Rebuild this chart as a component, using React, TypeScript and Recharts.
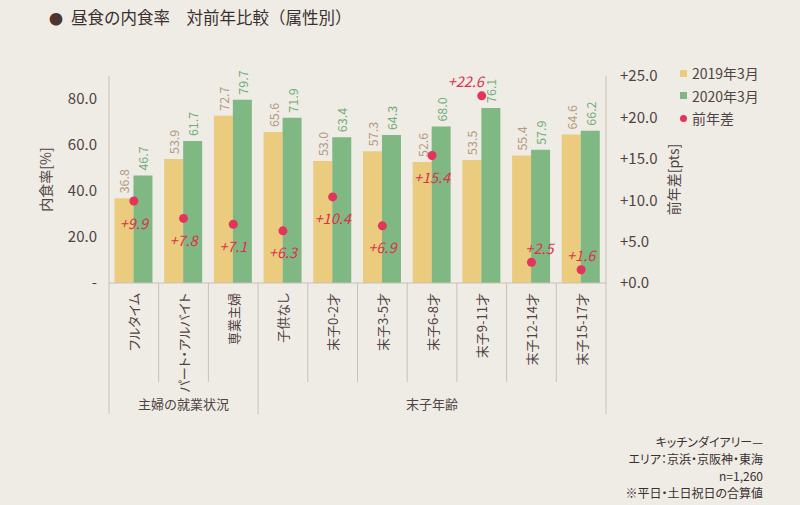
import React from 'react';
import { ComposedChart, Bar, Line, XAxis, YAxis, LabelList, Legend } from 'recharts';

const categories = ['フルタイム', 'パート・アルバイト', '専業主婦', '子供なし', '末子0-2才', '末子3-5才', '末子6-8才', '末子9-11才', '末子12-14才', '末子15-17才'];
const rate2019 = [36.8, 53.9, 72.7, 65.6, 53.0, 57.3, 52.6, 53.5, 55.4, 64.6];
const rate2020 = [46.7, 61.7, 79.7, 71.9, 63.4, 64.3, 68.0, 76.1, 57.9, 66.2];
const diff = [9.9, 7.8, 7.1, 6.3, 10.4, 6.9, 15.4, 22.6, 2.5, 1.6];
const groups = [
  { label: '主婦の就業状況', start: 0, end: 2 },
  { label: '末子年齢', start: 3, end: 9 },
];
const leftTicks = [0, 20, 40, 60, 80];
const rightTicks = [0, 5, 10, 15, 20, 25];
const seriesNames = { y2019: '2019年3月', y2020: '2020年3月', diff: '前年差' };
const notes = ['キッチンダイアリー—', 'エリア：京浜・京阪神・東海', 'n=1,260', '※平日・土日祝日の合算値'];
const title = '昼食の内食率　対前年比較（属性別）';

const data = categories.map((c, i) => ({ category: c, y2019: rate2019[i], y2020: rate2020[i], diff: diff[i] }));

const FONT = "'Noto Sans CJK JP', 'Noto Sans', sans-serif";
const W = 800;
const H = 505;
const MARGIN = { top: 76, right: 119, bottom: 82, left: 39 };
const LEFT_W = 70;
const RIGHT_W = 75;
const XAXIS_H = 140;
const PLOT_W = W - MARGIN.left - MARGIN.right - LEFT_W - RIGHT_W;
const BAND = PLOT_W / categories.length;
const PALT = { fontFeatureSettings: '"palt"' } as React.CSSProperties;

const C = {
  bg: '#efebe5',
  yellow: '#EBCB7E',
  green: '#80B883',
  yellowText: '#b39c7e',
  greenText: '#70ae78',
  red: '#e3345b',
  redText: '#d8334f',
  axis: '#c9c1b9',
  text: '#4f4444',
};

const XTick = (props: any) => {
  const { x, y, payload, index } = props;
  const i = typeof index === 'number' ? index : categories.indexOf(payload.value);
  const left = x - BAND / 2;
  const group = groups.find((g) => g.start === i);
  const isLast = i === categories.length - 1;
  return (
    <g>
      <line x1={left} x2={left} y1={y} y2={y + (group ? 131 : 99)} stroke={C.axis} strokeWidth={1} />
      {isLast && <line x1={x + BAND / 2} x2={x + BAND / 2} y1={y} y2={y + 131} stroke={C.axis} strokeWidth={1} />}
      <text
        x={x}
        y={y + 10}
        transform={`rotate(-90 ${x} ${y + 10})`}
        textAnchor="end"
        dominantBaseline="central"
        fontSize={13}
        fill={C.text}
        fontFamily={FONT}
        style={PALT}
      >
        {payload.value}
      </text>
      {group && (
        <text
          x={left + ((group.end - group.start + 1) * BAND) / 2}
          y={y + 120}
          textAnchor="middle"
          dominantBaseline="central"
          fontSize={13}
          fill={C.text}
          fontFamily={FONT}
        >
          {group.label}
        </text>
      )}
    </g>
  );
};

const barLabel = (color: string) => (props: any) => {
  const { x, y, width, value } = props;
  const cx = Number(x) + Number(width) / 2;
  const ty = Number(y) - 5;
  return (
    <text
      x={cx}
      y={ty}
      transform={`rotate(-90 ${cx} ${ty})`}
      textAnchor="start"
      dominantBaseline="central"
      fontSize={12.5}
      fill={color}
      fontFamily={FONT}
    >
      {Number(value).toFixed(1)}
    </text>
  );
};

const diffLabel = (props: any) => {
  const { x, y, value } = props;
  const v = Number(value);
  const above = v >= 20 || v < 3;
  const dx = v >= 20 ? -16 : v < 3 && v >= 2 ? 8 : 0;
  return (
    <text
      x={Number(x) + dx}
      y={Number(y) + (above ? -15 : 21)}
      textAnchor="middle"
      dominantBaseline="central"
      fontSize={14.5}
      fontStyle="italic"
      fill={C.redText}
      fontFamily={FONT}
    >
      {'+' + v.toFixed(1)}
    </text>
  );
};

const LegendContent = (props: any) => {
  const { payload } = props;
  return (
    <div style={{ fontFamily: FONT, fontSize: 14, color: C.text }}>
      {(payload || []).map((e: any, i: number) => (
        <div key={i} style={{ display: 'flex', alignItems: 'center', height: 22.5 }}>
          {e.type === 'circle' ? (
            <span style={{ width: 7, height: 7, borderRadius: '50%', background: C.red, display: 'inline-block', marginRight: 5 }} />
          ) : (
            <span style={{ width: 7, height: 7, background: e.color, display: 'inline-block', marginRight: 5 }} />
          )}
          <span>{e.value}</span>
        </div>
      ))}
    </div>
  );
};

const leftLabel = (props: any) => {
  const { viewBox } = props;
  const cx = viewBox.x + 6;
  const cy = viewBox.y + viewBox.height / 2;
  return (
    <text x={cx} y={cy} transform={`rotate(-90 ${cx} ${cy})`} textAnchor="middle" dominantBaseline="central" fontSize={14} fill={C.text} fontFamily={FONT}>
      内食率[%]
    </text>
  );
};

const rightLabel = (props: any) => {
  const { viewBox } = props;
  const cx = viewBox.x + 67;
  const cy = viewBox.y + viewBox.height / 2;
  return (
    <text x={cx} y={cy} transform={`rotate(-90 ${cx} ${cy})`} textAnchor="middle" dominantBaseline="central" fontSize={14} fill={C.text} fontFamily={FONT}>
      前年差[pts]
    </text>
  );
};

export default function App() {
  return (
    <div style={{ position: 'absolute', left: 0, top: 0, width: W, height: H, background: C.bg, fontFamily: FONT, overflow: 'hidden' }}>
      <div style={{ position: 'absolute', left: 49, top: 5, fontSize: 16.5, color: '#3a3030', whiteSpace: 'nowrap', lineHeight: '24px' }}>
        <span style={{ color: '#4a3530', fontSize: 14, marginRight: 8 }}>●</span>
        {title}
      </div>
      <ComposedChart width={W} height={H} data={data} margin={MARGIN} barCategoryGap="11%" barGap={0}>
        <XAxis
          dataKey="category"
          xAxisId={0}
          height={XAXIS_H}
          interval={0}
          tickLine={false}
          tickSize={0}
          tickMargin={0}
          axisLine={{ stroke: C.axis }}
          tick={<XTick />}
        />
        <YAxis
          yAxisId="left"
          orientation="left"
          width={LEFT_W}
          domain={[0, 90]}
          ticks={leftTicks}
          tickFormatter={(v: number) => (v === 0 ? '-' : v.toFixed(1))}
          tickLine={false}
          tickSize={0}
          tickMargin={12}
          axisLine={{ stroke: C.axis }}
          tick={{ fontSize: 15, fill: C.text, fontFamily: FONT }}
          label={leftLabel}
        />
        <YAxis
          yAxisId="right"
          orientation="right"
          width={RIGHT_W}
          domain={[0, 25]}
          ticks={rightTicks}
          tickFormatter={(v: number) => '+' + v.toFixed(1)}
          tickLine={false}
          tickSize={0}
          tickMargin={14}
          axisLine={{ stroke: C.axis }}
          tick={{ fontSize: 15, fill: C.text, fontFamily: FONT, textAnchor: 'start' }}
          label={rightLabel}
        />
        <Legend
          layout="vertical"
          verticalAlign="middle"
          align="center"
          content={<LegendContent />}
          wrapperStyle={{ position: 'absolute', left: 680, top: 62, width: 110 }}
        />
        <Bar yAxisId="left" dataKey="y2019" name={seriesNames.y2019} fill={C.yellow} legendType="square" isAnimationActive={false}>
          <LabelList dataKey="y2019" content={barLabel(C.yellowText)} />
        </Bar>
        <Bar yAxisId="left" dataKey="y2020" name={seriesNames.y2020} fill={C.green} legendType="square" isAnimationActive={false}>
          <LabelList dataKey="y2020" content={barLabel(C.greenText)} />
        </Bar>
        <Line
          yAxisId="right"
          dataKey="diff"
          name={seriesNames.diff}
          stroke="none"
          strokeWidth={0}
          legendType="circle"
          dot={{ r: 4.5, fill: C.red, stroke: 'none' }}
          activeDot={false}
          isAnimationActive={false}
        >
          <LabelList dataKey="diff" content={diffLabel} />
        </Line>
      </ComposedChart>
      <div style={{ position: 'absolute', right: 37, top: 433, textAlign: 'right', fontSize: 12, color: '#3a3030', ...PALT }}>
        {notes.map((n, i) => (
          <div key={i} style={{ height: 17, lineHeight: '17px', overflow: 'visible', whiteSpace: 'nowrap' }}>{n}</div>
        ))}
      </div>
    </div>
  );
}
